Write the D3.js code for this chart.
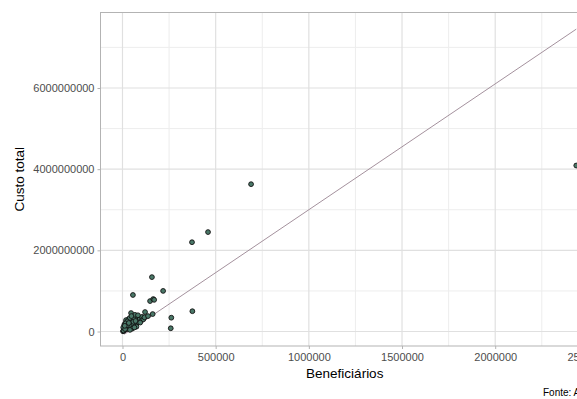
<!DOCTYPE html>
<html>
  <body style="margin:0;background:#fff">
    <script src="https://cdn.jsdelivr.net/npm/d3@7"></script>
    <script>
// scatter of beneficiaries vs total cost, with linear fit
var width = 577;
var height = 399;

// beneficiaries per point
var beneficiarios = [
  5000, 8000, 12000, 15000, 22000, 10000, 28000, 33000, 38000, 44000,
  50000, 20000, 56000, 65000, 72000, 30000, 80000, 86000, 92000, 60000,
  99000, 105000, 112000, 30000, 42000, 19000, 46000, 67000, 83000, 121000,
  3000, 6000, 4000, 14000, 24000, 38000, 52000, 75000, 48000, 118000,
  137000, 58000, 26000, 16000, 40000, 70000, 12000, 95000, 34000, 64000,
  690000, 459000, 373000, 2435000, 158000, 56000, 218000, 148000, 165000, 170000,
  162000, 262000, 375000, 259000
];

// total cost per point
var custo = [
  15e6, 60e6, 35e6, 120e6, 90e6, 170e6, 200e6, 130e6, 240e6, 160e6,
  270e6, 230e6, 150e6, 280e6, 200e6, 290e6, 320e6, 230e6, 300e6, 330e6,
  260e6, 360e6, 300e6, 60e6, 110e6, 280e6, 455e6, 410e6, 400e6, 480e6,
  5e6, 25e6, 100e6, 60e6, 150e6, 330e6, 70e6, 120e6, 380e6, 350e6,
  380e6, 240e6, 250e6, 200e6, 40e6, 260e6, 140e6, 220e6, 210e6, 100e6,
  3.63e9, 2.45e9, 2.2e9, 4.09e9, 1.34e9, 0.9e9, 1.0e9, 0.75e9, 0.8e9, 0.78e9,
  0.43e9, 0.34e9, 0.5e9, 0.08e9
];

// fitted line ends
var fitX = [10000, 2435000];
var fitY = [-0.69e8, 7.45e9];

var xTicks = [0, 500000, 1000000, 1500000, 2000000, 2500000];
var xMinor = [250000, 750000, 1250000, 1750000, 2250000];
var yTicks = [0, 2000000000, 4000000000, 6000000000];
var yMinor = [1000000000, 3000000000, 5000000000, 7000000000];

// panel box (note: "top" is a reserved window global, so prefixed names)
var pLeft = 100.5, pRight = 599, pTop = 12.5, pBottom = 346;

var x = d3.scaleLinear().domain([-118000, 2557000]).range([pLeft, pRight]);
var y = d3.scaleLinear().domain([-3.57e8, 7.86e9]).range([pBottom, pTop]);

var svg = d3.select("body").append("svg")
  .attr("width", width)
  .attr("height", height)
  .style("display", "block")
  .style("overflow", "hidden")
  .style("font-family", "Liberation Sans, Arial, sans-serif");

// grid
var grid = svg.append("g");
grid.selectAll(".xmin").data(xMinor).join("line")
  .attr("class", "xmin")
  .attr("x1", d => x(d)).attr("x2", d => x(d))
  .attr("y1", pTop).attr("y2", pBottom)
  .attr("stroke", "#ededed").attr("stroke-width", 1);
grid.selectAll(".ymin").data(yMinor).join("line")
  .attr("class", "ymin")
  .attr("x1", pLeft).attr("x2", pRight)
  .attr("y1", d => y(d)).attr("y2", d => y(d))
  .attr("stroke", "#ededed").attr("stroke-width", 1);
grid.selectAll(".xmaj").data(xTicks).join("line")
  .attr("class", "xmaj")
  .attr("x1", d => x(d)).attr("x2", d => x(d))
  .attr("y1", pTop).attr("y2", pBottom)
  .attr("stroke", "#e0e0e0").attr("stroke-width", 1.2);
grid.selectAll(".ymaj").data(yTicks).join("line")
  .attr("class", "ymaj")
  .attr("x1", pLeft).attr("x2", pRight)
  .attr("y1", d => y(d)).attr("y2", d => y(d))
  .attr("stroke", "#e0e0e0").attr("stroke-width", 1.2);

// fit line
svg.append("path")
  .datum(d3.zip(fitX, fitY))
  .attr("fill", "none")
  .attr("stroke", "#9a8592")
  .attr("stroke-width", 0.9)
  .attr("d", d3.line().x(d => x(d[0])).y(d => y(d[1])));

// points
svg.append("g")
  .selectAll("circle")
  .data(d3.zip(beneficiarios, custo))
  .join("circle")
  .attr("cx", d => x(d[0]))
  .attr("cy", d => y(d[1]))
  .attr("r", 2.4)
  .attr("fill", "#4a7868")
  .attr("stroke", "#111")
  .attr("stroke-width", 0.9);

// panel border
svg.append("rect")
  .attr("x", pLeft).attr("y", pTop)
  .attr("width", pRight - pLeft).attr("height", pBottom - pTop)
  .attr("fill", "none").attr("stroke", "#b3b3b3").attr("stroke-width", 1);

// axes
var xAxis = svg.append("g")
  .attr("transform", "translate(0," + pBottom + ")")
  .call(d3.axisBottom(x).tickValues(xTicks).tickFormat(d3.format("d")).tickSize(3).tickPadding(4));
var yAxis = svg.append("g")
  .attr("transform", "translate(" + pLeft + ",0)")
  .call(d3.axisLeft(y).tickValues(yTicks).tickFormat(d3.format("d")).tickSize(3).tickPadding(3));
[xAxis, yAxis].forEach(function (a) {
  a.select(".domain").remove();
  a.selectAll("line").attr("stroke", "#b3b3b3");
  a.selectAll("text").attr("fill", "#4d4d4d")
    .style("font-size", "11px")
    .style("font-family", "Liberation Sans, Arial, sans-serif");
});

// titles
svg.append("text")
  .attr("x", (pLeft + pRight) / 2 - 5)
  .attr("y", 378)
  .attr("text-anchor", "middle")
  .style("font-size", "13.5px")
  .text("Beneficiários");

svg.append("text")
  .attr("transform", "translate(24," + ((pTop + pBottom) / 2) + ") rotate(-90)")
  .attr("text-anchor", "middle")
  .style("font-size", "13.5px")
  .text("Custo total");

svg.append("text")
  .attr("x", 543)
  .attr("y", 396)
  .style("font-size", "10px")
  .text("Fonte: ANS");
    </script>
  </body>
</html>
